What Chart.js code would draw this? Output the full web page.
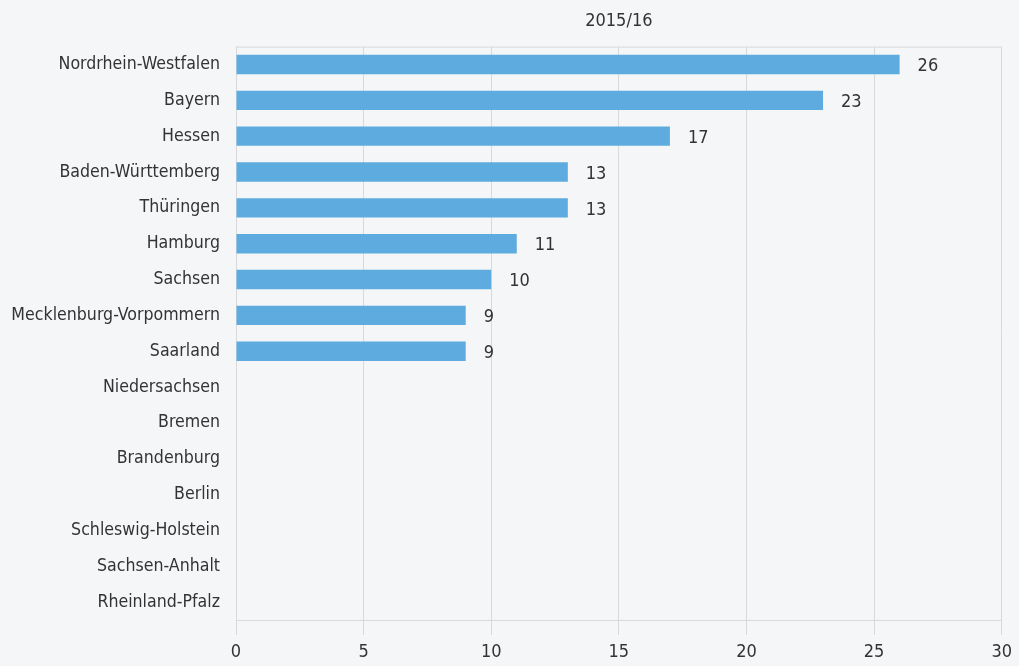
<!DOCTYPE html>
<html>
<head>
<meta charset="utf-8">
<script src="https://cdn.jsdelivr.net/npm/chart.js@4"></script>
<style>
  html, body { margin: 0; padding: 0; background: #f5f6f8; }
  #wrap { width: 1019px; height: 666px; }
</style>
</head>
<body>
<div id="wrap"><canvas id="chart"></canvas></div>
<script>
// Daten
const laender = ['Nordrhein-Westfalen', 'Bayern', 'Hessen', 'Baden-Württemberg', 'Thüringen', 'Hamburg',
    'Sachsen', 'Mecklenburg-Vorpommern', 'Saarland', 'Niedersachsen', 'Bremen', 'Brandenburg', 'Berlin',
    'Schleswig-Holstein', 'Sachsen-Anhalt', 'Rheinland-Pfalz'];
const werte = [26, 23, 17, 13, 13, 11, 10, 9, 9, null, null, null, null, null, null, null];
const xTicks = [0, 5, 10, 15, 20, 25, 30];
const titel = '2015/16';

const FONT = '"DejaVu Sans Condensed", "Liberation Sans", sans-serif';
const TEXT = '#333333';
const GRID = '#d9d9d9';

// Werte rechts neben den Balken + Rahmen oben
const valueLabels = {
    id: 'valueLabels',
    afterDatasetsDraw(chart) {
        const ctx = chart.ctx;
        const meta = chart.getDatasetMeta(0);
        ctx.save();
        ctx.font = '18px ' + FONT;
        ctx.fillStyle = TEXT;
        ctx.textAlign = 'left';
        ctx.textBaseline = 'middle';
        meta.data.forEach((bar, i) => {
            if (werte[i] == null) return;
            ctx.fillText(String(werte[i]), bar.x + 18, bar.y + 2);
        });
        const a = chart.chartArea;
        ctx.strokeStyle = GRID;
        ctx.lineWidth = 1;
        ctx.beginPath();
        ctx.moveTo(a.left, a.top + 0.5);
        ctx.lineTo(a.right, a.top + 0.5);
        ctx.stroke();
        ctx.restore();
    }
};

new Chart(document.getElementById('chart'), {
    type: 'bar',
    data: {
        labels: laender,
        datasets: [{
            data: werte,
            backgroundColor: '#5dabdf',
            categoryPercentage: 1,
            barPercentage: 0.54
        }]
    },
    plugins: [valueLabels],
    options: {
        indexAxis: 'y',
        responsive: true,
        maintainAspectRatio: false,
        animation: false,
        layout: { padding: { top: 11, right: 15, bottom: 0, left: 0 } },
        plugins: {
            legend: { display: false },
            tooltip: { enabled: false },
            title: {
                display: true,
                fullSize: false,
                text: titel,
                color: TEXT,
                font: { family: FONT, size: 18, weight: 'normal' },
                padding: { top: 0, bottom: 14 }
            }
        },
        scales: {
            x: {
                min: 0,
                max: 30,
                afterBuildTicks: axis => { axis.ticks = xTicks.map(v => ({ value: v })); },
                afterFit: axis => { axis.height = 46; },
                grid: { color: GRID, tickLength: 15, tickColor: GRID },
                border: { color: GRID },
                ticks: { color: TEXT, font: { family: FONT, size: 18 }, padding: 7 }
            },
            y: {
                afterFit: axis => { axis.width = 236; },
                grid: { display: false },
                border: { color: GRID },
                ticks: { color: TEXT, font: { family: FONT, size: 17.6 }, padding: 8 }
            }
        }
    }
});
</script>
</body>
</html>
